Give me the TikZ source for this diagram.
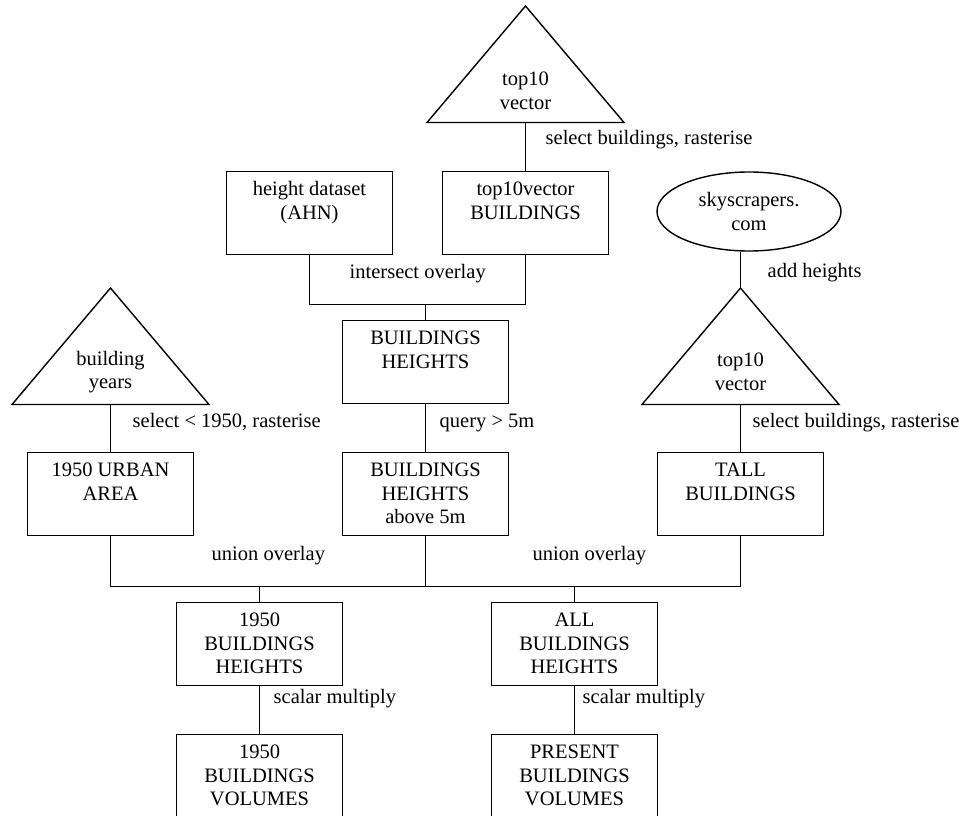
\documentclass[tikz,border=0pt]{standalone}
\usepackage{fontspec}
\setmainfont{Liberation Serif}
\usetikzlibrary{shapes.geometric}

\newcommand{\inbox}[1]{\parbox[c][83pt][t]{166pt}{\centering\vspace*{7.5pt}\strut#1}}

\begin{document}
\begin{tikzpicture}[x=1pt,y=-1pt,line width=1.4pt,
	font=\fontsize{20.5}{23.6}\selectfont,
	box/.style={draw,rectangle,inner sep=0pt},
	lbl/.style={inner sep=0pt,anchor=base west},
	txt/.style={align=center,inner sep=0pt}]
	\useasboundingbox (0,0) rectangle (962,816);
	\clip (0,0) rectangle (962,816);

	% sources
	\draw (525.5,6) -- (624,122.5) -- (427,122.5) -- cycle;
	\coordinate (tvtop) at (525.5,122.5);
	\node[txt] (tvtoptext) at (525.5,91) {top10\\vector};

	\draw (110.5,288) -- (209,404.5) -- (12,404.5) -- cycle;
	\coordinate (years) at (110.5,404.5);
	\node[txt] (yearstext) at (110.5,372) {building\\years};

	\node[draw,ellipse,inner sep=0pt,minimum width=184pt,minimum height=79pt,align=center] (sky) at (749,211.5) {skyscrapers.\\com};

	\draw (740.5,288) -- (839,404.5) -- (642,404.5) -- cycle;
	\coordinate (tvapex) at (740.5,288);
	\coordinate (tvright) at (740.5,404.5);
	\node[txt] (tvrighttext) at (740.5,372) {top10\\vector};

	% boxes
	\node[box] (ahn) at (309.5,213) {\inbox{height dataset\\(AHN)}};
	\node[box] (tvb) at (525.5,213) {\inbox{top10vector\\BUILDINGS}};
	\node[box] (heights) at (425.5,362) {\inbox{BUILDINGS\\HEIGHTS}};
	\node[box] (above) at (425.5,494) {\inbox{BUILDINGS\\HEIGHTS\\above 5m}};
	\node[box] (urban) at (110.5,494) {\inbox{1950 URBAN\\AREA}};
	\node[box] (tall) at (740.5,494) {\inbox{TALL\\BUILDINGS}};
	\node[box] (bh) at (259.5,644) {\inbox{1950\\BUILDINGS\\HEIGHTS}};
	\node[box] (allbh) at (574.5,644) {\inbox{ALL\\BUILDINGS\\HEIGHTS}};
	\node[box] (bv) at (259.5,776) {\inbox{1950\\BUILDINGS\\VOLUMES}};
	\node[box] (pv) at (574.5,776) {\inbox{PRESENT\\BUILDINGS\\VOLUMES}};

	% connectors
	\draw (tvtop) -- (tvb);
	\draw (ahn.south) -- ++(0,49) -| (tvb.south);
	\coordinate (meet) at (425.5,303.5);
	\draw (meet) -- (heights);
	\draw (heights) -- (above);
	\draw (years) -- (urban);
	\draw (sky.south -| tvapex) -- (tvapex);
	\draw (tvright) -- (tall);
	\draw (urban.south) -- ++(0,50) -| (tall.south);
	\coordinate (join) at (425.5,585.5);
	\draw (above) -- (join);
	\draw (bh.north |- join) -- (bh);
	\draw (allbh.north |- join) -- (allbh);
	\draw (bh) -- (bv);
	\draw (allbh) -- (pv);

	% labels
	\node[lbl] (l1) at (545,144) {select buildings, rasterise};
	\node[lbl] (l2) at (349,278) {intersect overlay};
	\node[lbl] (l3) at (767,277) {add heights};
	\node[lbl] (l4) at (132,427) {select < 1950, rasterise};
	\node[lbl] (l5) at (439,427) {query > 5m};
	\node[lbl] (l6) at (752,427) {select buildings, rasterise};
	\node[lbl] (l7) at (211,560) {union overlay};
	\node[lbl] (l8) at (532,560) {union overlay};
	\node[lbl] (l9) at (273,703) {scalar multiply};
	\node[lbl] (l10) at (582,703) {scalar multiply};
\end{tikzpicture}
\end{document}
